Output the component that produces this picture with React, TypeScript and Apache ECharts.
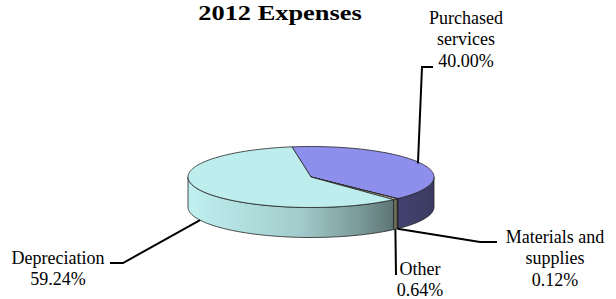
import React, { useEffect, useRef } from 'react';
import * as echarts from 'echarts';

// ---- data ----
const CATEGORIES = ['Purchased services', 'Materials and supplies', 'Other', 'Depreciation'];
const LABEL_NAMES = ['Purchased\nservices', 'Materials and\nsupplies', 'Other', 'Depreciation'];
const PERCENTS = [40.0, 0.12, 0.64, 59.24];
const PERCENT_LABELS = ['40.00%', '0.12%', '0.64%', '59.24%'];
const TITLE = '2012 Expenses';

// ---- styles / layout ----
const BASE_COLORS = ['#9999FF', '#993366', '#FFFFCC', '#CCFFFF'];
const PIE = { cx: 311, cy: 177, rx: 123, ry: 30.5, depth: 30, startAngle: -8.9 };
const LABEL_LAYOUT = [
  { x: 466, top: 7.3, path: [[422, 67], [433, 67]] },
  { x: 555, top: 226.3, path: [[480, 242], [497, 242]] },
  { x: 420, top: 258, path: [[396, 275]] },
  { x: 58, top: 247.3, path: [[123, 263], [110, 263]] },
];
const FONT_FAMILY = 'Liberation Serif';

function shade(hex: string, f: number): string {
  const n = parseInt(hex.slice(1), 16);
  const r = Math.min(255, Math.round(((n >> 16) & 255) * f));
  const g = Math.min(255, Math.round(((n >> 8) & 255) * f));
  const b = Math.min(255, Math.round((n & 255) * f));
  return 'rgb(' + r + ',' + g + ',' + b + ')';
}

function pt(deg: number, r: number, dy: number): number[] {
  const t = (deg * Math.PI) / 180;
  return [PIE.cx + PIE.rx * r * Math.sin(t), PIE.cy - PIE.ry * r * Math.cos(t) + dy];
}

function arc(a0: number, a1: number, dy: number): number[][] {
  const n = Math.max(2, Math.ceil((a1 - a0) / 1.5));
  const out: number[][] = [];
  for (let k = 0; k <= n; k++) out.push(pt(a0 + ((a1 - a0) * k) / n, 1, dy));
  return out;
}

export default function App() {
  const ref = useRef<HTMLDivElement>(null);
  useEffect(() => {
    if (!ref.current) return;
    const chart = echarts.init(ref.current, undefined, { renderer: 'svg' });
    const total = PERCENTS.reduce((s, v) => s + v, 0);

    const renderItem = (params: any, api: any) => {
      const i = params.dataIndex;
      const value = api.value(0);
      let acc = 0;
      for (let j = 0; j < i; j++) acc += PERCENTS[j];
      const a0 = PIE.startAngle + (acc / total) * 360;
      const a1 = a0 + (value / total) * 360;
      const base = BASE_COLORS[i];
      const children: any[] = [];

      // side (front half only: 90..270 deg)
      for (let off = -360; off <= 360; off += 360) {
        const s0 = Math.max(a0, 90 + off);
        const s1 = Math.min(a1, 270 + off);
        if (s1 > s0) {
          const top = arc(s0, s1, 0);
          const bot = arc(s0, s1, PIE.depth).reverse();
          children.push({
            type: 'polygon',
            z2: 1,
            shape: { points: top.concat(bot) },
            style: {
              fill: new echarts.graphic.LinearGradient(
                PIE.cx - PIE.rx, 0, PIE.cx + PIE.rx, 0,
                [
                  { offset: 0, color: shade(base, 0.94) },
                  { offset: 0.45, color: shade(base, 0.8) },
                  { offset: 0.7, color: shade(base, 0.6) },
                  { offset: 0.85, color: shade(base, 0.44) },
                  { offset: 1, color: shade(base, 0.38) },
                ],
                true
              ),
              stroke: '#222',
              lineWidth: 0.8,
            },
          });
        }
      }

      // top face
      children.push({
        type: 'polygon',
        z2: 2,
        shape: { points: [[PIE.cx, PIE.cy]].concat(arc(a0, a1, 0)) },
        style: { fill: shade(base, 0.93), stroke: '#222', lineWidth: 0.8 },
      });

      // label line + text
      const mid = (a0 + a1) / 2;
      const front = Math.cos((mid * Math.PI) / 180) < 0;
      const anchor = front ? pt(mid, 1, PIE.depth) : pt(mid, 0.975, 0);
      const lay = LABEL_LAYOUT[i];
      children.push({
        type: 'polyline',
        z2: 3,
        shape: { points: [anchor].concat(lay.path) },
        style: { stroke: '#000', lineWidth: 2, fill: null },
      });
      children.push({
        type: 'text',
        z2: 4,
        style: {
          text: LABEL_NAMES[i] + '\n' + PERCENT_LABELS[i],
          x: lay.x,
          y: lay.top,
          align: 'center',
          verticalAlign: 'top',
          fontFamily: FONT_FAMILY,
          fontSize: 18,
          lineHeight: 21.3,
          fill: '#000',
        },
      });
      return { type: 'group', children };
    };

    chart.setOption({
      animation: false,
      backgroundColor: '#fff',
      graphic: [
        {
          type: 'text',
          x: 280,
          y: 12,
          scaleX: 1.2,
          style: {
            text: TITLE,
            fontFamily: FONT_FAMILY,
            fontWeight: 'bold',
            fontSize: 22,
            align: 'center',
            verticalAlign: 'middle',
            fill: '#000',
          },
        },
      ],
      series: [
        {
          type: 'custom',
          coordinateSystem: 'none',
          silent: true,
          renderItem,
          data: PERCENTS.map((v, k) => ({ name: CATEGORIES[k], value: [v] })),
        },
      ],
    });
    return () => chart.dispose();
  }, []);
  return <div ref={ref} style={{ position: 'fixed', left: 0, top: 0, width: 616, height: 299 }} />;
}
